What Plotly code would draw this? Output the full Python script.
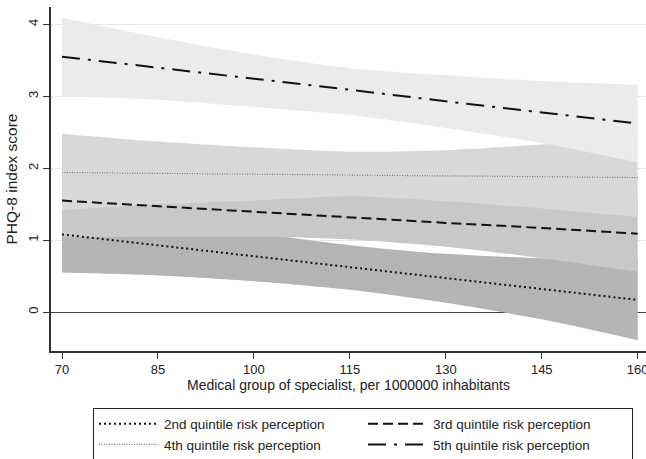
import plotly.graph_objects as go

# x values (specialists per 1,000,000 inhabitants)
x_vals = [70, 85, 100, 115, 130, 145, 160]

# Predicted PHQ-8 lines
q2_line = [1.08, 0.93, 0.78, 0.63, 0.47, 0.32, 0.17]
q3_line = [1.55, 1.47, 1.40, 1.32, 1.24, 1.17, 1.09]
q4_line = [1.94, 1.93, 1.92, 1.91, 1.89, 1.88, 1.87]
q5_line = [3.55, 3.40, 3.24, 3.09, 2.93, 2.78, 2.62]

# Confidence bands
q2_upper = [1.61, 1.35, 1.11, 0.93, 0.81, 0.75, 0.73]
q2_lower = [0.55, 0.51, 0.43, 0.31, 0.13, -0.10, -0.39]
q3_upper = [2.06, 1.89, 1.75, 1.66, 1.60, 1.60, 1.62]
q3_lower = [1.04, 1.05, 1.05, 1.01, 0.91, 0.75, 0.56]
q4_upper = [2.48, 2.37, 2.29, 2.23, 2.25, 2.33, 2.42]
q4_lower = [1.42, 1.50, 1.55, 1.61, 1.54, 1.44, 1.32]
q5_upper = [4.09, 3.82, 3.58, 3.39, 3.29, 3.21, 3.16]
q5_lower = [3.00, 2.95, 2.85, 2.74, 2.56, 2.35, 2.08]

names = ["2nd quintile risk perception", "3rd quintile risk perception",
         "4th quintile risk perception", "5th quintile risk perception"]

fig = go.Figure()

bands = [
    (q2_lower, q2_upper, "#b4b4b4"),
    (q3_lower, q3_upper, "#c8c8c8"),
    (q4_lower, q4_upper, "#d8d8d8"),
    (q5_lower, q5_upper, "#ebebeb"),
]
for lo, up, col in bands:
    fig.add_trace(go.Scatter(x=x_vals, y=lo, mode="lines", line=dict(width=0, shape="spline", smoothing=0.8),
                             showlegend=False, hoverinfo="skip"))
    fig.add_trace(go.Scatter(x=x_vals, y=up, mode="lines", line=dict(width=0, shape="spline", smoothing=0.8),
                             fill="tonexty", fillcolor=col, showlegend=False, hoverinfo="skip"))

line_styles = [
    (q2_line, dict(color="#111111", width=2, dash="2px,3px")),
    (q3_line, dict(color="#111111", width=2, dash="10px,5px")),
    (q4_line, dict(color="#777777", width=1.2, dash="1px,1.5px")),
    (q5_line, dict(color="#111111", width=2, dash="18px,8px,3px,8px")),
]
for (vals, ls), nm in zip(line_styles, names):
    fig.add_trace(go.Scatter(x=x_vals, y=vals, mode="lines", line=ls, name=nm))

axis_font = dict(family="Liberation Sans, Arial, sans-serif", size=13, color="#222222")

fig.update_layout(
    width=646, height=459,
    margin=dict(l=51, r=0, t=7, b=108),
    paper_bgcolor="white", plot_bgcolor="white",
    font=dict(family="Liberation Sans, Arial, sans-serif", size=12, color="#222222"),
    xaxis=dict(
        range=[68.28, 161.3], tickvals=[70, 85, 100, 115, 130, 145, 160],
        showgrid=False, zeroline=False, showline=True, linecolor="#333333", linewidth=1.5,
        ticks="outside", ticklen=6, tickcolor="#333333", tickfont=axis_font,
        ticklabeloverflow="allow",
        title=dict(text="Medical group of specialist, per 1000000 inhabitants",
                   font=dict(size=14), standoff=2),
        automargin=False,
    ),
    yaxis=dict(
        range=[-0.54, 4.24], tickvals=[0, 1, 2, 3, 4], tickangle=-90,
        showgrid=True, gridcolor="#e6e6e6", gridwidth=1,
        zeroline=True, zerolinecolor="#444444", zerolinewidth=1.3,
        showline=True, linecolor="#333333", linewidth=1.5,
        ticks="outside", ticklen=6, tickcolor="#333333", tickfont=axis_font,
        title=dict(text="PHQ-8 index score", font=dict(size=15.5), standoff=5),
        automargin=False,
    ),
    legend=dict(
        orientation="h", xref="container", yref="container",
        x=0.144, xanchor="left", y=0.112, yanchor="top",
        entrywidth=194, entrywidthmode="pixels", itemwidth=60,
        traceorder="normal",
        bordercolor="#222222", borderwidth=1, bgcolor="white",
        font=dict(size=13.5), tracegroupgap=0,
    ),
)

fig.write_html("out.html", config={"displayModeBar": False},
               post_script="document.body.style.margin='0';document.body.style.overflow='hidden';")
